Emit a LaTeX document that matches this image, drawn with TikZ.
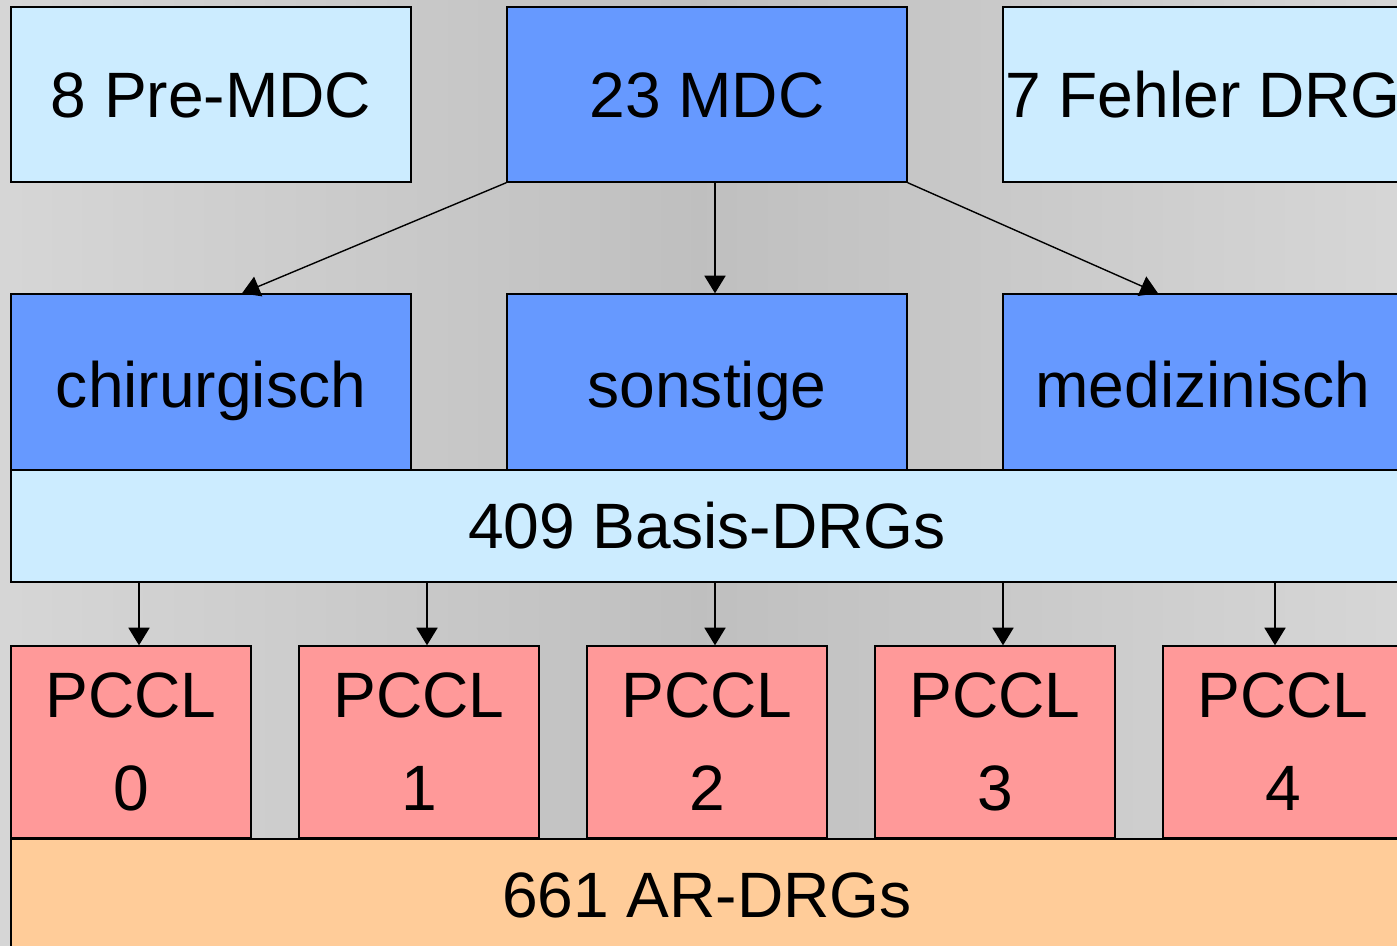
\documentclass[tikz,border=0pt]{standalone}
\usepackage{fontspec}
\setmainfont{Liberation Sans}
\usetikzlibrary{arrows.meta}
\definecolor{hellblau}{HTML}{CCECFF}
\definecolor{blau}{HTML}{6699FF}
\definecolor{rosa}{HTML}{FF9999}
\definecolor{apricot}{HTML}{FFCC99}

\begin{document}
\begin{tikzpicture}[
    >={Triangle[length=10pt,width=12pt]}, line width=0.8pt,
    every node/.style={draw=black, line width=0.8pt, inner sep=0pt, font={\fontsize{36.5}{53}\selectfont}},
    topbox/.style={minimum width=8cm, minimum height=3.5cm, text height=26pt, text depth=0pt},
    midbox/.style={fill=blau, minimum width=8cm, minimum height=3.52cm, text height=29pt, text depth=0pt},
    widebox/.style={minimum width=27.84cm, minimum height=2.24cm, text height=26pt, text depth=0pt},
    pcclbox/.style={fill=rosa, minimum width=4.8cm, minimum height=3.84cm, align=center}]

    \clip (0,0) rectangle (27.94,-18.9);
    \shade[left color=black!16, right color=black!16, middle color=black!25] (0,0) rectangle (27.94,-18.9);

    \draw(4.22,-1.89) node[topbox, fill=hellblau] (pre) {8 Pre-MDC};
    \draw(14.14,-1.89) node[topbox, fill=blau] (mdc) {23 MDC};
    \draw(24.06,-1.89) node[topbox, fill=hellblau] (fehler) {7 Fehler DRG};

    \draw(4.22,-7.64) node[midbox] (chir) {chirurgisch};
    \draw(14.14,-7.64) node[midbox] (sonst) {sonstige};
    \draw(24.06,-7.64) node[midbox] (med) {medizinisch};

    \draw(14.14,-10.52) node[widebox, fill=hellblau] (basis) {409 Basis-DRGs};

    \foreach \i/\x in {0/2.62, 1/8.38, 2/14.14, 3/19.90, 4/25.66}
        \draw(\x,-14.84) node[pcclbox] (pccl\i) {PCCL\\\i};

    \draw(14.14,-17.9) node[widebox, fill=apricot] (ar) {661 AR-DRGs};

    \draw[->] (mdc.south west) -- ([xshift=0.62cm]chir.north);
    \draw[->] ([xshift=0.16cm]mdc.south) -- ([xshift=0.16cm]sonst.north);
    \draw[->] (mdc.south east) -- ([xshift=-0.9cm]med.north);

    \foreach \i/\s in {0/0.16, 1/0.16, 2/0.16, 3/0.16, 4/-0.16}
        \draw[->] ([xshift=\s cm]pccl\i.north |- basis.south) -- ([xshift=\s cm]pccl\i.north);

\end{tikzpicture}
\end{document}
